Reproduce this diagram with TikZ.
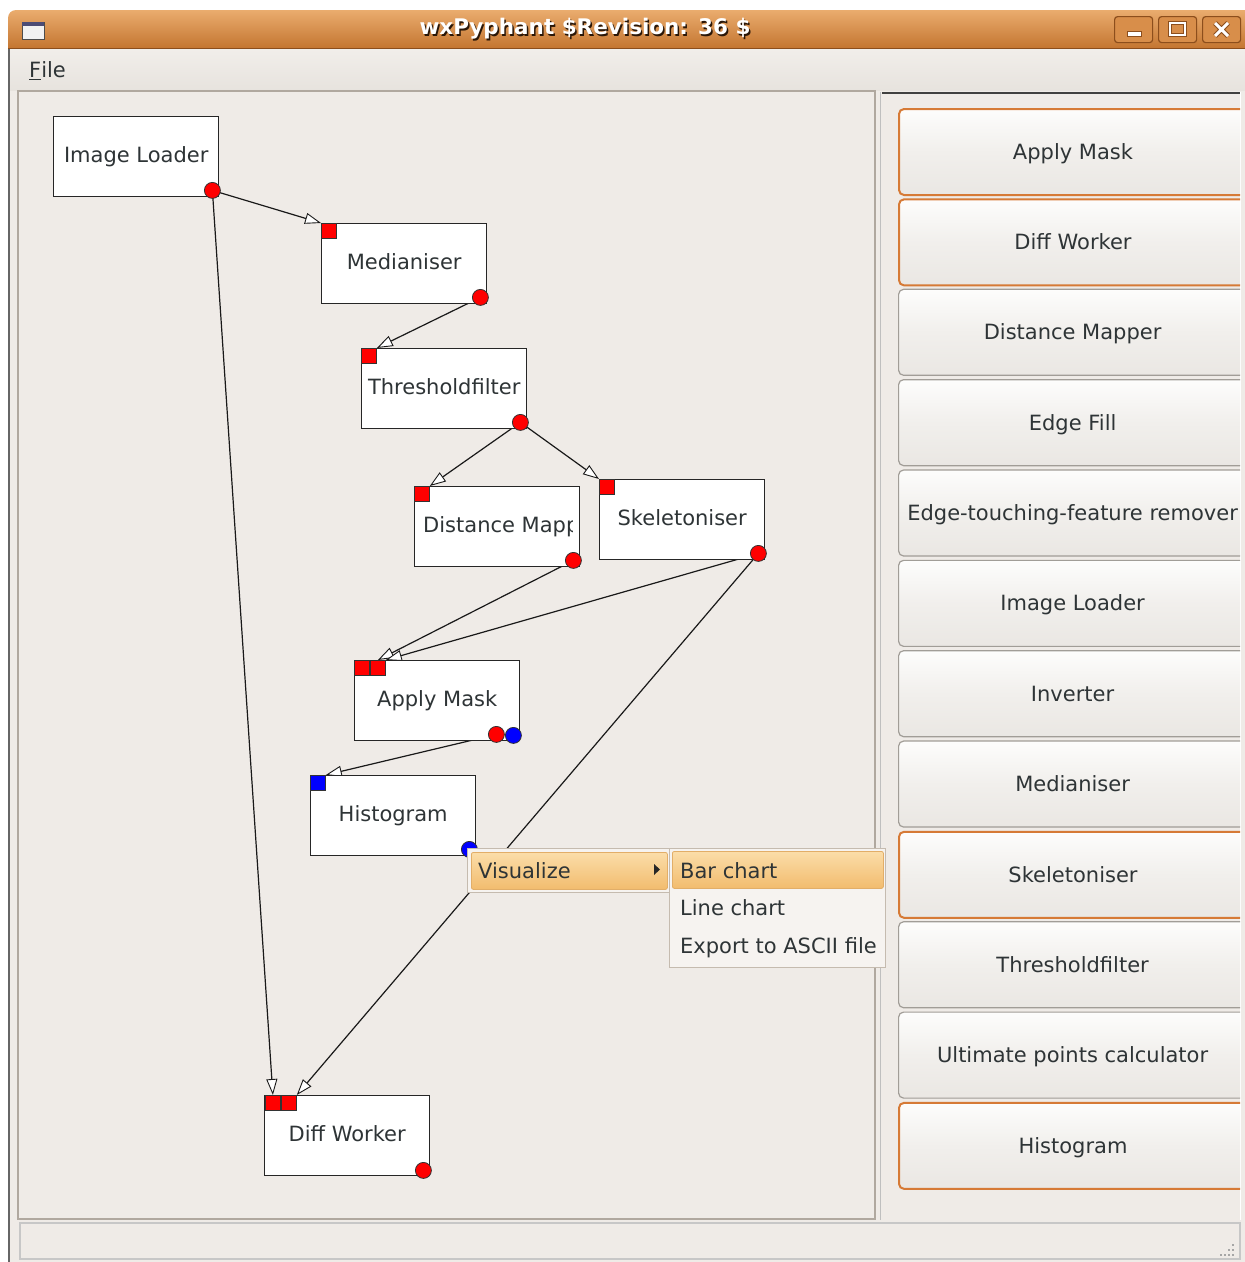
\documentclass[tikz,border=0pt]{standalone}
\usepackage{fontspec}
\setmainfont{DejaVu Sans}
\usetikzlibrary{arrows.meta,calc}
\definecolor{wbg}{HTML}{EFEBE7}
\definecolor{tbtop}{HTML}{EAAC6E}
\definecolor{tbbot}{HTML}{C47631}
\definecolor{tbbtn}{HTML}{D88E4A}
\definecolor{tbbd}{HTML}{8C4E1C}
\definecolor{txt}{HTML}{2E3436}
\definecolor{orangeb}{HTML}{D67A36}
\definecolor{grayb}{HTML}{A19D97}
\definecolor{portred}{HTML}{FF0000}
\definecolor{portblue}{HTML}{0000FF}
\definecolor{menuhl1}{HTML}{FBDDA9}
\definecolor{menuhl2}{HTML}{F2BC6E}
\definecolor{hlbd}{HTML}{E2AE68}
\definecolor{menubg}{HTML}{F6F3F0}
\definecolor{menubd}{HTML}{C5BBAF}
\definecolor{canvasbd}{HTML}{B0A89F}
\definecolor{btntop}{HTML}{FDFDFC}
\definecolor{btnmid}{HTML}{F1EFEC}
\definecolor{btnbot}{HTML}{EAE7E3}
\definecolor{mbtop}{HTML}{F1EEEA}
\definecolor{mbbot}{HTML}{E7E3DE}
\pgfdeclarelayer{bg}
\pgfdeclarelayer{edges}
\pgfsetlayers{bg,edges,main}
\begin{document}
\begin{tikzpicture}[x=1pt,y=-1pt,
  fnt/.style={font=\fontsize{21}{25}\selectfont, text height=15pt, text depth=0pt},
  box/.style={draw=black!85, line width=1.4pt, fill=white, minimum width=165pt, minimum height=80pt, inner sep=0pt, anchor=north west, fnt, text height=11pt, text=txt},
  outr/.style={circle, fill=portred, draw=black!80, line width=0.8pt, minimum size=16pt, inner sep=0pt},
  outb/.style={outr, fill=portblue},
  inr/.style={rectangle, fill=portred, draw=black!80, line width=0.8pt, minimum size=15pt, inner sep=0pt, anchor=north west},
  inb/.style={inr, fill=portblue},
  conn/.style={draw=black!90, line width=1.2pt, -{Triangle[length=16pt,width=11pt,fill=white,line width=0.9pt]}},
  btn/.style={rounded corners=5pt, minimum width=348pt, minimum height=86pt, anchor=north west, top color=btntop, bottom color=btnbot, middle color=btnmid, fnt, text=txt, inner sep=0pt},
  btno/.style={btn, draw=orangeb, line width=2pt},
  btng/.style={btn, draw=grayb, line width=1.2pt},
  tbtn/.style={rounded corners=3pt, fill=tbbtn, draw=tbbd, line width=1.2pt, minimum width=38pt, minimum height=26pt, anchor=north west, inner sep=0pt},
  hl/.style={anchor=north west, inner sep=0pt, rounded corners=2pt, draw=hlbd, top color=menuhl1, bottom color=menuhl2, line width=0.8pt},
  mtxt/.style={fnt, anchor=west, text=txt, inner sep=0pt}
]
\useasboundingbox (0,0) rectangle (1245,1262);
\begin{pgfonlayer}{bg}
\fill[white] (0,0) rectangle (1245,1262);
% window body
\fill[wbg] (8,20) rectangle (1245,1262);
\draw[line width=1.8pt, draw=black!60] (9,30) -- (9,1262);
% title bar
\shade[top color=tbtop, bottom color=tbbot] (8,48) [rounded corners=8pt]-- (8,10) -- (1243,10) [sharp corners]-- (1245,10) -- (1245,48) -- cycle;
\draw[line width=1pt, draw=tbbd] (8,48) -- (1245,48);
% menubar
\shade[top color=mbtop, bottom color=mbbot] (10,49) rectangle (1245,90);
% canvas panel
\draw[fill=wbg, draw=canvasbd, line width=1.3pt] (18,91) rectangle (875,1219);
% right panel
\draw[draw=black!25, line width=1.2pt] (880.5,92) -- (880.5,1220);
\draw[draw=white, line width=1.2pt] (1240.5,92) -- (1240.5,1220);
\draw[draw=black!75, line width=2pt] (882,93) -- (1240,93);
% status bar
\draw[fill=wbg, draw=black!22, line width=1.2pt] (20,1223) rectangle (1240,1259);
\end{pgfonlayer}

% title bar contents
\node[font=\fontsize{21.5}{25}\selectfont\bfseries, text=black!70!tbbd, inner sep=0pt] (title-sh) at (586.5,30.5) {wxPyphant \$Revision: 36 \$};
\node[font=\fontsize{21.5}{25}\selectfont\bfseries, text=white, inner sep=0pt] (title) at (585,29) {wxPyphant \$Revision: 36 \$};
\draw[fill=black!5, draw=black!70, line width=1pt] (22,22) rectangle (44,39);
\fill[black!60!blue!40!gray] (22,22) rectangle (44,26);
\node[tbtn] (tb-min) at (1114,16) {};
\node[tbtn] (tb-max) at (1158,16) {};
\node[tbtn] (tb-close) at (1202,16) {};
\fill[white, draw=tbbd, line width=0.6pt] (1127,31) rectangle (1141,36);
\draw[tbbd, line width=3.5pt] (1170,23) rectangle (1185,35);
\draw[white, line width=2pt] (1170,23) rectangle (1185,35);
\draw[tbbd, line width=5pt] (1215,23) -- (1228,36) (1228,23) -- (1215,36);
\draw[white, line width=3pt] (1215,23) -- (1228,36) (1228,23) -- (1215,36);

% menu bar
\node[mtxt] (file) at (29,70) {\underline{F}ile};

% pipeline boxes
\node[box] (il) at (53,116) {Image Loader};
\node[box] (med) at (321,223) {Medianiser};
\node[box] (thr) at (361,348) {Thresholdfilter};
\node[box] (dm) at (414,486) {};
\begin{scope}
\clip (415,487) rectangle (572,565);
\node[mtxt] (dm-lab) at (423,524.5) {Distance Mapper};
\end{scope}
\node[box] (sk) at (599,479) {Skeletoniser};
\node[box] (am) at (354,660) {Apply Mask};
\node[box] (hist) at (310,775) {Histogram};
\node[box] (dw) at (264,1095) {Diff Worker};

% ports
\node[outr] (il-out) at ($(il.south east)+(-7,-7)$) {};
\node[inr] (med-in) at (med.north west) {};
\node[outr] (med-out) at ($(med.south east)+(-7,-7)$) {};
\node[inr] (thr-in) at (thr.north west) {};
\node[outr] (thr-out) at ($(thr.south east)+(-7,-7)$) {};
\node[inr] (dm-in) at (dm.north west) {};
\node[outr] (dm-out) at ($(dm.south east)+(-7,-7)$) {};
\node[inr] (sk-in) at (sk.north west) {};
\node[outr] (sk-out) at ($(sk.south east)+(-7,-7)$) {};
\node[inr] (am-in1) at (am.north west) {};
\node[inr] (am-in2) at ($(am.north west)+(16,0)$) {};
\node[outr] (am-outr) at ($(am.south east)+(-24,-7)$) {};
\node[outb] (am-outb) at ($(am.south east)+(-7,-6)$) {};
\node[inb] (hist-in) at (hist.north west) {};
\node[outb] (hist-out) at ($(hist.south east)+(-7,-7)$) {};
\node[inr] (dw-in1) at ($(dw.north west)+(1,0)$) {};
\node[inr] (dw-in2) at ($(dw.north west)+(17,0)$) {};
\node[outr] (dw-out) at ($(dw.south east)+(-7,-6)$) {};

% connectors
\begin{pgfonlayer}{edges}
\draw[conn] (il-out.center) -- (med-in.north west);
\draw[conn] (il-out.center) -- (dw-in1.north);
\draw[conn] (med-out.center) -- (thr-in.north east);
\draw[conn] (thr-out.center) -- (dm-in.north east);
\draw[conn] (thr-out.center) -- (sk-in.north west);
\draw[conn] (dm-out.center) -- (am-in2.north);
\draw[conn] (sk-out.center) -- (am-in2.north east);
\draw[conn] (sk-out.center) -- (dw-in2.north east);
\draw[conn] (am-outr.center) -- (hist-in.north east);
\end{pgfonlayer}

% right panel buttons
\begin{scope}
\clip (882,95) rectangle (1240,1220);
\foreach \nm/\lab/\sty [count=\i from 0] in {
  am/Apply Mask/btno, dw/Diff Worker/btno, dm/Distance Mapper/btng,
  ef/Edge Fill/btng, et/Edge-touching-feature remover/btng,
  il/Image Loader/btng, inv/Inverter/btng, med/Medianiser/btng,
  sk/Skeletoniser/btno, thr/Thresholdfilter/btng,
  up/Ultimate points calculator/btng, hist/Histogram/btno} {
  \node[\sty] (btn-\nm) at (898,{108+90.35*\i}) {\lab};
}
\end{scope}

% status bar grip
\foreach \gx/\gy [count=\k] in {1232/1244,1232/1249,1228/1249,1232/1254,1228/1254,1224/1254,1220/1254} {
  \fill[black!35] (\gx,\gy) rectangle ++(1.5,1.5);
}

% context menu
\node[draw=menubd, fill=menubg, line width=1pt, minimum width=203pt, minimum height=44pt, anchor=north west, inner sep=0pt] (visbox) at (467,848) {};
\node[hl, minimum width=196pt, minimum height=37pt] (vishl) at (471,852) {};
\node[mtxt] (vis) at (478,871) {Visualize};
\fill[black!85] (654,864) -- (660,869.5) -- (654,875) -- cycle;
\node[draw=menubd, fill=menubg, line width=1pt, minimum width=216pt, minimum height=119pt, anchor=north west, inner sep=0pt] (sub) at (669,848) {};
\node[hl, minimum width=211pt, minimum height=37pt] (barhl) at (672,851) {};
\node[mtxt] (bar) at (680,871) {Bar chart};
\node[mtxt] (line) at (680,908) {Line chart};
\node[mtxt] (export) at (680,946) {Export to ASCII file};
\end{tikzpicture}
\end{document}
